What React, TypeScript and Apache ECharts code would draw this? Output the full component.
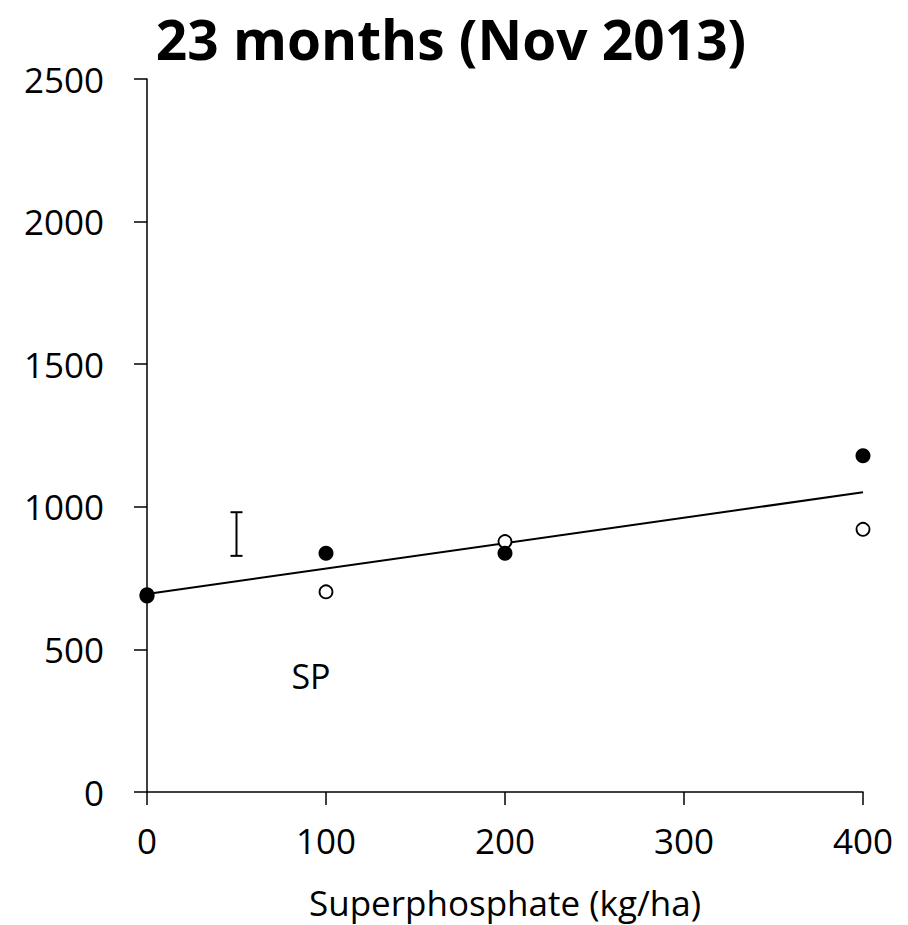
import React, { useEffect, useRef } from "react";
import * as echarts from "echarts";

const titleText = "23 months (Nov 2013)";
const xAxisName = "Superphosphate (kg/ha)";
const rateLevels = [0, 100, 200, 400];
const filledValues = [687, 837, 837, 1179];
const openValues = [692, 702, 878, 921];
const trendX = [0, 400];
const trendY = [694, 1051];
const errorBarX = 50;
const errorBarLow = 828;
const errorBarHigh = 981;
const annotation = "SP";

const FONT = "'Open Sans', 'Noto Sans', sans-serif";

export default function App() {
  const ref = useRef<HTMLDivElement>(null);
  useEffect(() => {
    if (!ref.current) return;
    const chart = echarts.init(ref.current, null, { renderer: "svg" });
    const option: any = {
      animation: false,
      backgroundColor: "#ffffff",
      textStyle: { fontFamily: FONT, color: "#000" },
      title: {
        text: titleText,
        left: 446,
        top: 6,
        textAlign: "center",
        textStyle: { fontFamily: FONT, fontWeight: "bold", fontSize: 55, color: "#000" },
      },
      grid: { left: 147, right: 45, top: 79, bottom: 133, containLabel: false },
      xAxis: {
        type: "value",
        min: 0,
        max: 400,
        interval: 100,
        name: xAxisName,
        nameLocation: "middle",
        nameGap: 93,
        nameTextStyle: { fontFamily: FONT, fontSize: 35, color: "#000" },
        axisLine: { show: true, onZero: false, lineStyle: { color: "#000", width: 1.5 } },
        axisTick: { show: true, inside: false, length: 13, lineStyle: { color: "#000", width: 1.5 } },
        axisLabel: { fontFamily: FONT, fontSize: 35, color: "#000", margin: 31, formatter: (v: number) => String(v) },
        splitLine: { show: false },
      },
      yAxis: {
        type: "value",
        min: 0,
        max: 2500,
        interval: 500,
        axisLine: { show: true, onZero: false, lineStyle: { color: "#000", width: 1.5 } },
        axisTick: { show: true, inside: false, length: 13, lineStyle: { color: "#000", width: 1.5 } },
        axisLabel: { fontFamily: FONT, fontSize: 35, color: "#000", margin: 43, formatter: (v: number) => String(v) },
        splitLine: { show: false },
      },
      series: [
        {
          type: "line",
          data: trendX.map((x, i) => [x, trendY[i]]),
          symbol: "none",
          lineStyle: { color: "#000", width: 2 },
          z: 2,
        },
        {
          type: "custom",
          data: [[errorBarX, errorBarLow, errorBarHigh]],
          renderItem: (params: any, api: any) => {
            const lo = api.coord([api.value(0), api.value(1)]);
            const hi = api.coord([api.value(0), api.value(2)]);
            const half = 6;
            const st = { stroke: "#000", lineWidth: 2 };
            return {
              type: "group",
              children: [
                { type: "line", shape: { x1: lo[0], y1: lo[1], x2: hi[0], y2: hi[1] }, style: st },
                { type: "line", shape: { x1: lo[0] - half, y1: lo[1], x2: lo[0] + half, y2: lo[1] }, style: st },
                { type: "line", shape: { x1: hi[0] - half, y1: hi[1], x2: hi[0] + half, y2: hi[1] }, style: st },
              ],
            };
          },
          z: 3,
        },
        {
          type: "scatter",
          data: rateLevels.map((x, i) => [x, openValues[i]]),
          symbol: "circle",
          symbolSize: 13,
          itemStyle: { color: "#fff", borderColor: "#000", borderWidth: 1.8, opacity: 1 },
          z: 4,
        },
        {
          type: "scatter",
          data: rateLevels.map((x, i) => [x, filledValues[i]]),
          symbol: "circle",
          symbolSize: 15,
          itemStyle: { color: "#000", opacity: 1 },
          z: 5,
        },
      ],
      graphic: [
        {
          type: "text",
          x: 311,
          y: 676,
          style: {
            text: annotation,
            font: `34px ${FONT}`,
            fill: "#000",
            align: "center",
            verticalAlign: "middle",
          },
        },
      ],
    };
    chart.setOption(option);
    return () => chart.dispose();
  }, []);
  return (
    <div
      ref={ref}
      style={{ position: "fixed", left: 0, top: 0, width: 908, height: 925, background: "#fff" }}
    />
  );
}
